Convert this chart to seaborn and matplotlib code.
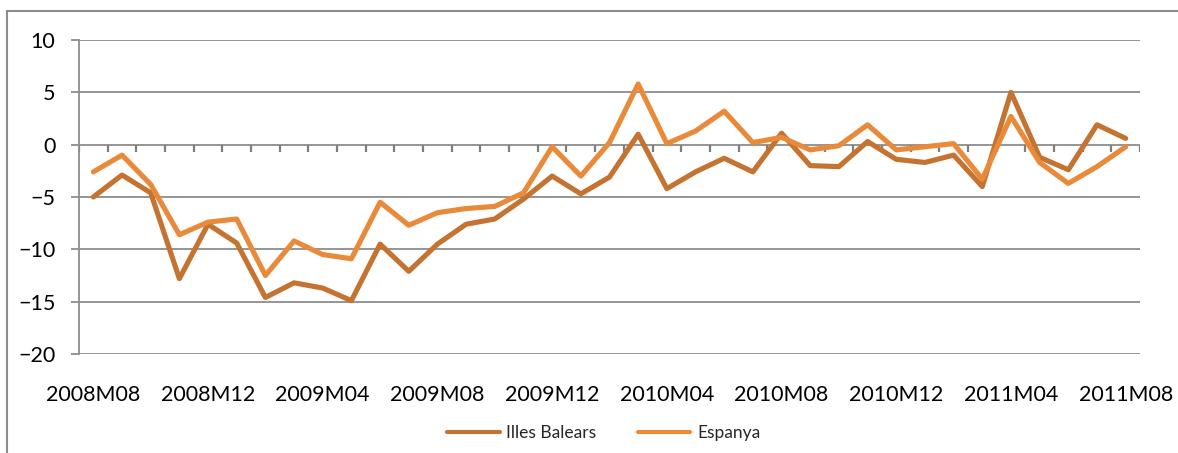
import numpy as np
import pandas as pd
import matplotlib
matplotlib.use("Agg")
import matplotlib.pyplot as plt
from matplotlib.patches import Rectangle
import seaborn as sns

# Monthly periods 2008M08 .. 2011M08
periods = [f"{y}M{m:02d}" for y in range(2008, 2012) for m in range(1, 13)]
periods = periods[periods.index("2008M08"):periods.index("2011M08") + 1]

illes_balears = [-5.0, -2.9, -4.6, -12.8, -7.6, -9.4, -14.6, -13.2, -13.7, -14.9,
                 -9.5, -12.1, -9.5, -7.6, -7.1, -5.2, -3.0, -4.7, -3.1, 1.0,
                 -4.2, -2.6, -1.3, -2.6, 1.1, -2.0, -2.1, 0.3, -1.4, -1.7,
                 -1.0, -4.0, 5.0, -1.2, -2.4, 1.9, 0.6]
espanya = [-2.6, -1.0, -3.8, -8.6, -7.4, -7.1, -12.5, -9.2, -10.5, -10.9,
           -5.5, -7.7, -6.5, -6.1, -5.9, -4.6, -0.2, -3.0, 0.2, 5.8,
           0.1, 1.3, 3.2, 0.2, 0.7, -0.5, -0.1, 1.9, -0.5, -0.2,
           0.1, -3.3, 2.7, -1.7, -3.7, -2.1, -0.2]

series_names = ["Illes Balears", "Espanya"]
colors = ["#C47331", "#E98A3B"]
y_ticks = [10, 5, 0, -5, -10, -15, -20]

df = pd.DataFrame({
    "idx": list(range(len(periods))) * 2,
    "value": illes_balears + espanya,
    "series": [series_names[0]] * len(periods) + [series_names[1]] * len(periods),
})

sns.set_theme(style="white")
plt.rcParams["font.family"] = ["Lato", "DejaVu Sans"]
grid_col = "#8C8C8C"

fig = plt.figure(figsize=(11.78, 4.53), dpi=100)
ax = fig.add_axes([79 / 1178, 1 - 354 / 453, (1140 - 79) / 1178, (354 - 40) / 453])

# outer chart border (runs off the right and bottom edge)
fig.patches.append(Rectangle((7 / 1178, -0.1), 1.2, 1.1 - 11 / 453,
                             transform=fig.transFigure, fill=False,
                             edgecolor=grid_col, lw=1.5, zorder=0))

for yv in y_ticks:
    ax.axhline(yv, color=grid_col, lw=1.3, zorder=1)

sns.lineplot(data=df, x="idx", y="value", hue="series", hue_order=series_names,
             palette=colors, linewidth=3.7, ax=ax, zorder=3)

ax.set_xlim(-0.5, len(periods) - 0.5)
ax.set_ylim(-20, 10)
ax.set_yticks(y_ticks)
ax.set_xlabel("")
ax.set_ylabel("")

for s in ["top", "right", "bottom"]:
    ax.spines[s].set_visible(False)
ax.spines["left"].set_color(grid_col)
ax.spines["left"].set_linewidth(1.3)
ax.tick_params(axis="y", length=6, width=1.3, color=grid_col, pad=11,
               labelsize=15.5, labelcolor="black", left=True)

# category labels at the bottom of the plot area
ax.set_xticks(range(0, len(periods), 4))
ax.set_xticklabels(periods[::4])
ax.tick_params(axis="x", length=0, pad=22, labelsize=15.5, labelcolor="black")

# category tick marks hanging below the zero line, at category boundaries
bounds = np.arange(len(periods) + 1) - 0.5
ax.plot(np.repeat(bounds, 3), np.tile([0.0, -0.7, np.nan], len(bounds)),
        color="#7F7F7F", lw=1.6, zorder=2, solid_capstyle="butt")

handles, labels = ax.get_legend_handles_labels()
ax.get_legend().remove()
fig.legend(handles[:2], labels[:2], loc="center",
           bbox_to_anchor=(604 / 1178, 1 - 433 / 453),
           ncol=2, frameon=False, fontsize=12.5, handlelength=3.0, handletextpad=0.4,
           columnspacing=2.4)
for h in fig.legends[0].get_lines():
    h.set_linewidth(3)

fig.savefig("out.png", dpi=100)
